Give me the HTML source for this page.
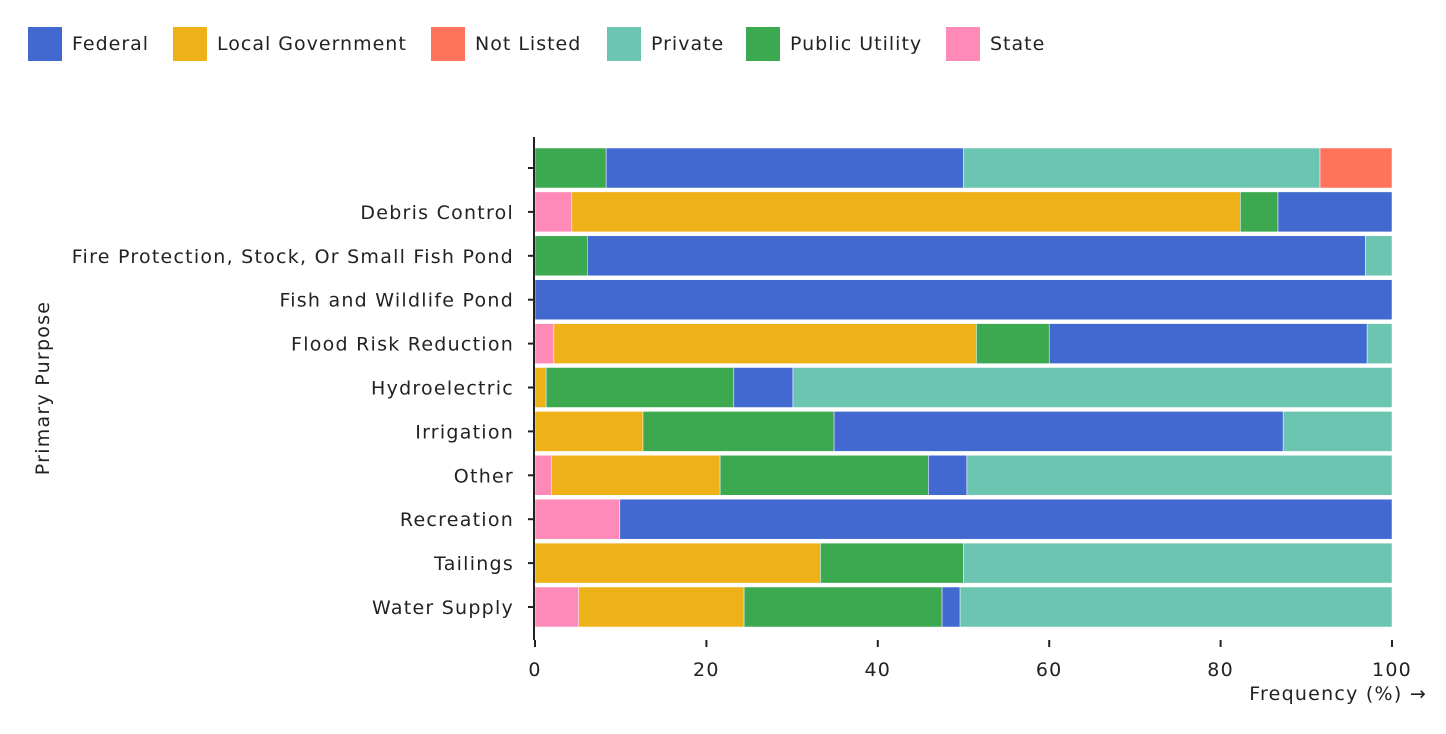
<!DOCTYPE html>
<html><head><meta charset="utf-8"><style>
body{margin:0;background:#fff;font-family:"DejaVu Sans",sans-serif;}
#wrap{position:relative;width:1446px;height:734px;overflow:hidden;}
.lg{position:absolute;top:27px;height:34px;display:flex;align-items:center;font-size:19px;letter-spacing:1px;color:#222;}
.sw{width:34px;height:34px;margin-right:10px;}
svg text{font-family:"DejaVu Sans",sans-serif;letter-spacing:1.25px;}
</style></head><body><div id="wrap">
<div>
<div class="lg" style="left:28px"><div class="sw" style="background:#4269d0"></div>Federal</div>
<div class="lg" style="left:173px"><div class="sw" style="background:#efb118"></div>Local Government</div>
<div class="lg" style="left:431px"><div class="sw" style="background:#ff725c"></div>Not Listed</div>
<div class="lg" style="left:607px"><div class="sw" style="background:#6cc5b0"></div>Private</div>
<div class="lg" style="left:746px"><div class="sw" style="background:#3ca951"></div>Public Utility</div>
<div class="lg" style="left:946px"><div class="sw" style="background:#ff8ab7"></div>State</div>
</div>
<svg id="svg" width="1446" height="734" style="position:absolute;left:0;top:0"></svg>
</div>
<script>
const categories=["","Debris Control","Fire Protection, Stock, Or Small Fish Pond","Fish and Wildlife Pond","Flood Risk Reduction","Hydroelectric","Irrigation","Other","Recreation","Tailings","Water Supply"];
const seriesNames=["State","Local Government","Public Utility","Federal","Private","Not Listed"];
const stateVals=[0,4.3,0,0,2.2,0,0,1.9,9.9,0,5.1];
const localVals=[0,78,0,0,49.3,1.3,12.6,19.7,0,33.3,19.3];
const utilityVals=[8.3,4.4,6.1,0,8.5,21.9,22.3,24.3,0,16.7,23.1];
const federalVals=[41.7,13.3,90.8,100,37.1,6.9,52.4,4.5,90.1,0,2.1];
const privateVals=[41.6,0,3.1,0,2.9,69.9,12.7,49.6,0,50,50.4];
const notListedVals=[8.4,0,0,0,0,0,0,0,0,0,0];
const xTicks=[0,20,40,60,80,100];
const colors=["#ff8ab7","#efb118","#3ca951","#4269d0","#6cc5b0","#ff725c"];
const series=[stateVals,localVals,utilityVals,federalVals,privateVals,notListedVals];
const NS="http://www.w3.org/2000/svg",svg=document.getElementById('svg');
const x0=535,x1=1392,top0=148,step=43.9,bh=40;
const xs=v=>x0+(x1-x0)*v/100;
const ys=i=>top0+i*step;
function mk(t,a,txt){const e=document.createElementNS(NS,t);for(const k in a)e.setAttribute(k,a[k]);if(txt!==undefined)e.textContent=txt;svg.appendChild(e);return e;}
categories.forEach((c,i)=>{
  const tot=series.reduce((s,a)=>s+a[i],0);let acc=0;
  series.forEach((arr,si)=>{const v=arr[i]/tot*100;if(v<=0)return;
    const r=mk('rect',{x:xs(acc),y:ys(i),width:xs(acc+v)-xs(acc),height:bh,fill:colors[si],stroke:'#fff','stroke-width':0.5});
    
    
    acc+=v;});
  const cy=ys(i)+bh/2;
  const tk=mk('line',{x1:x0-7,x2:x0,y1:cy,y2:cy,stroke:'#222','stroke-width':2});
  
  
  const t=mk('text',{x:514,y:cy+7,'text-anchor':'end','font-size':19,fill:'#222'},c);
  
  
});
const ya=mk('line',{x1:x0-1,x2:x0-1,y1:137,y2:640,stroke:'#222','stroke-width':2});


xTicks.forEach(v=>{
  const l=mk('line',{x1:xs(v),x2:xs(v),y1:640,y2:647,stroke:'#222','stroke-width':2});
  
  
  const t=mk('text',{x:xs(v),y:676,'text-anchor':'middle','font-size':19,fill:'#222'},String(v));
  
  
});
const xt=mk('text',{x:1427,y:700,'text-anchor':'end','font-size':19,fill:'#222'},'Frequency (%) →');


const yt=mk('text',{x:0,y:0,'text-anchor':'middle','font-size':19,fill:'#222',transform:'translate(49,388) rotate(-90)'},'Primary Purpose');


</script></body></html>
